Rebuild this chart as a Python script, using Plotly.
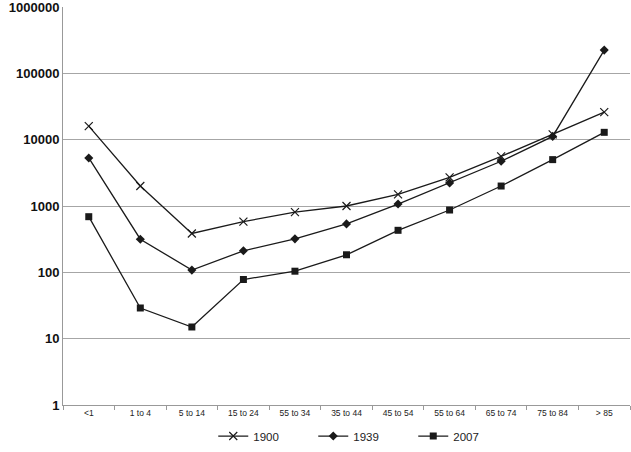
import plotly.graph_objects as go

categories = ["<1", "1 to 4", "5 to 14", "15 to 24", "55 to 34", "35 to 44",
              "45 to 54", "55 to 64", "65 to 74", "75 to 84", "> 85"]
y1900 = [16000, 2000, 385, 580, 810, 1000, 1500, 2700, 5600, 12000, 26000]
y1939 = [5300, 316, 108, 211, 320, 537, 1070, 2230, 4730, 11200, 224000]
y2007 = [690, 29, 15, 78, 104, 184, 430, 870, 2000, 5000, 12900]
ytickvals = [1, 10, 100, 1000, 10000, 100000, 1000000]
yticktext = ["1", "10", "100", "1000", "10000", "100000", "1000000"]

line = dict(color="#1a1a1a", width=1.3)
fig = go.Figure()
fig.add_trace(go.Scatter(x=categories, y=y1900, name="1900", mode="lines+markers",
                         line=line, marker=dict(symbol="x-thin", size=8,
                                                line=dict(color="#1a1a1a", width=1.2))))
fig.add_trace(go.Scatter(x=categories, y=y1939, name="1939", mode="lines+markers",
                         line=line, marker=dict(symbol="diamond", size=7, color="#1a1a1a")))
fig.add_trace(go.Scatter(x=categories, y=y2007, name="2007", mode="lines+markers",
                         line=line, marker=dict(symbol="square", size=7, color="#1a1a1a")))

fig.update_layout(
    width=631, height=452,
    margin=dict(l=63, r=1, t=7, b=47, autoexpand=False),
    plot_bgcolor="white", paper_bgcolor="white",
    showlegend=True,
    legend=dict(orientation="h", x=0.265, xanchor="left", y=-0.078, yanchor="middle",
                font=dict(family="Liberation Sans, Arial", size=11.5, color="#222"),
                itemwidth=30, entrywidth=55, entrywidthmode="pixels"),
    xaxis=dict(type="category", showgrid=False, showline=True, linecolor="#999",
               linewidth=1, ticks="outside", ticklen=4, tickcolor="#999",
               tickson="boundaries", automargin=False,
               tickfont=dict(family="Liberation Sans, Arial", size=8.5, color="#222"),
               range=[-0.5, 10.5]),
    yaxis=dict(type="log", range=[0, 6], tickvals=ytickvals, ticktext=yticktext,
               showgrid=True, gridcolor="#a6a6a6", gridwidth=1, automargin=False,
               showline=True, linecolor="#999", linewidth=1, zeroline=False,
               ticklabeloverflow="allow",
               ticks="", tickfont=dict(family="Liberation Sans, Arial", size=13,
                                       color="#111", weight="bold")),
)
fig.write_html("out.html", config={"displayModeBar": False},
               post_script="document.body.style.margin='0';")
